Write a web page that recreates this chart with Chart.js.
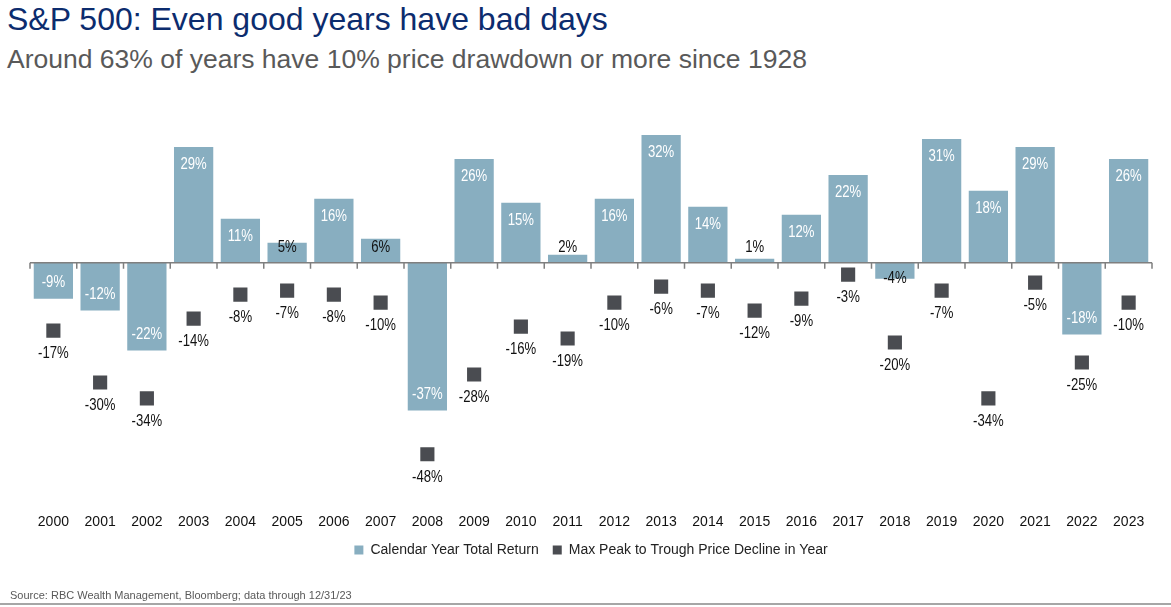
<!DOCTYPE html>
<html lang="en">
<head>
<meta charset="UTF-8">
<title>S&amp;P 500: Even good years have bad days</title>
<style>
    html, body {
        margin: 0;
        padding: 0;
        background: #ffffff;
    }
    body {
        width: 1171px;
        height: 607px;
        position: relative;
        overflow: hidden;
        font-family: "Liberation Sans", Arial, sans-serif;
    }
    .title {
        position: absolute;
        left: 7px;
        top: 0px;
        font-size: 32px;
        line-height: 38px;
        color: #0c2c6e;
        white-space: nowrap;
    }
    .subtitle {
        position: absolute;
        left: 7px;
        top: 43px;
        font-size: 26.5px;
        line-height: 32px;
        color: #595959;
        white-space: nowrap;
    }
    #chartBox {
        position: absolute;
        left: 0;
        top: 100px;
        width: 1171px;
        height: 500px;
    }
    .source {
        position: absolute;
        left: 10px;
        top: 589px;
        font-size: 11px;
        color: #595959;
        white-space: nowrap;
    }
    .rule {
        position: absolute;
        left: 0;
        top: 603px;
        width: 1171px;
        height: 0;
        border-top: 2px solid #a6a6a6;
    }
</style>
<script src="https://cdn.jsdelivr.net/npm/chart.js@4/dist/chart.umd.min.js"></script>
</head>
<body>
<div class="title">S&amp;P 500: Even good years have bad days</div>
<div class="subtitle">Around 63% of years have 10% price drawdown or more since 1928</div>
<div id="chartBox"><canvas id="chart"></canvas></div>
<div class="source">Source: RBC Wealth Management, Bloomberg; data through 12/31/23</div>
<div class="rule"></div>

<script>
    // datos
    const years = ['2000', '2001', '2002', '2003', '2004', '2005', '2006', '2007', '2008', '2009', '2010', '2011',
                   '2012', '2013', '2014', '2015', '2016', '2017', '2018', '2019', '2020', '2021', '2022', '2023'];
    const totalReturn = [-9, -12, -22, 29, 11, 5, 16, 6, -37, 26, 15, 2,
                         16, 32, 14, 1, 12, 22, -4, 31, 18, 29, -18, 26];
    const maxDecline = [-17, -30, -34, -14, -8, -7, -8, -10, -48, -28, -16, -19,
                        -10, -6, -7, -12, -9, -3, -20, -7, -34, -5, -25, -10];

    const sans = '"Liberation Sans", Arial, sans-serif';
    const barColor = '#88aec0';
    const squareColor = '#4a4c51';

    // texto estrecho (no hay Arial Narrow): se comprime a mano
    function narrowText(ctx, text, x, y) {
        ctx.save();
        ctx.translate(x, y);
        ctx.scale(0.82, 1);
        ctx.fillText(text, 0, 0);
        ctx.restore();
    }

    // linea del cero con marcas entre categorias
    const zeroLine = {
        id: 'zeroLine',
        afterDatasetsDraw(chart) {
            const ctx = chart.ctx;
            const x = chart.scales.x;
            const y0 = chart.scales.y.getPixelForValue(0);
            const step = x.getPixelForValue(1) - x.getPixelForValue(0);
            ctx.save();
            ctx.strokeStyle = '#7f7f7f';
            ctx.lineWidth = 1.5;
            ctx.beginPath();
            ctx.moveTo(chart.chartArea.left, y0);
            ctx.lineTo(chart.chartArea.right, y0);
            for (let i = 0; i <= years.length; i++) {
                const xb = x.getPixelForValue(0) - step / 2 + i * step;
                ctx.moveTo(xb, y0);
                ctx.lineTo(xb, y0 + 6);
            }
            ctx.stroke();
            ctx.restore();
        }
    };

    // sube un poco la leyenda, mas pegada a los años
    const legendShift = {
        id: 'legendShift',
        afterUpdate(chart) {
            const lg = chart.legend;
            if (!lg) return;
            lg.top -= 14;
            lg.bottom -= 14;
            lg.adjustHitBoxes();
        }
    };

    // etiquetas de valores
    const valueLabels = {
        id: 'valueLabels',
        afterDatasetsDraw(chart) {
            const ctx = chart.ctx;
            const y0 = chart.scales.y.getPixelForValue(0);
            ctx.save();
            ctx.textAlign = 'center';
            ctx.textBaseline = 'middle';
            ctx.font = '16px ' + sans;

            const bars = chart.getDatasetMeta(0).data;
            bars.forEach((bar, i) => {
                const v = totalReturn[i];
                let ty;
                if (Math.abs(v) >= 8) {
                    ctx.fillStyle = '#ffffff';
                    ty = v > 0 ? bar.y + 18 : bar.y - 16;
                } else {
                    ctx.fillStyle = '#111111';
                    ty = v > 0 ? y0 - 15 : y0 + 16;
                }
                narrowText(ctx, v + '%', bar.x, ty);
            });

            const pts = chart.getDatasetMeta(1).data;
            ctx.fillStyle = '#111111';
            pts.forEach((p, i) => {
                narrowText(ctx, maxDecline[i] + '%', p.x, p.y + 23);
            });
            ctx.restore();
        }
    };

    window.onload = function () {
        const ctx = document.getElementById('chart').getContext('2d');
        new Chart(ctx, {
            data: {
                labels: years,
                datasets: [{
                    type: 'bar',
                    label: 'Calendar Year Total Return',
                    data: totalReturn,
                    backgroundColor: barColor,
                    borderWidth: 0,
                    barPercentage: 0.84,
                    categoryPercentage: 1.0
                }, {
                    type: 'line',
                    label: 'Max Peak to Trough Price Decline in Year',
                    data: maxDecline,
                    showLine: false,
                    pointStyle: 'rect',
                    pointRadius: 10,
                    pointHoverRadius: 10,
                    pointBorderWidth: 0,
                    backgroundColor: squareColor,
                    borderColor: squareColor,
                    borderWidth: 0,
                    pointBackgroundColor: squareColor
                }]
            },
            options: {
                responsive: true,
                maintainAspectRatio: false,
                animation: false,
                layout: {
                    padding: { left: 30, right: 19, top: 23, bottom: 19 }
                },
                plugins: {
                    tooltip: { enabled: false },
                    legend: {
                        position: 'bottom',
                        labels: {
                            boxWidth: 9,
                            boxHeight: 9,
                            padding: 14,
                            color: '#222222',
                            font: { size: 14, family: sans }
                        }
                    }
                },
                scales: {
                    x: {
                        grid: { display: false, drawTicks: false },
                        border: { display: false },
                        ticks: {
                            color: '#111111',
                            padding: 12,
                            autoSkip: false,
                            maxRotation: 0,
                            font: { size: 14, family: sans }
                        }
                    },
                    y: {
                        display: false,
                        min: -60,
                        max: 35
                    }
                }
            },
            plugins: [zeroLine, valueLabels, legendShift]
        });
    };
</script>
</body>
</html>
